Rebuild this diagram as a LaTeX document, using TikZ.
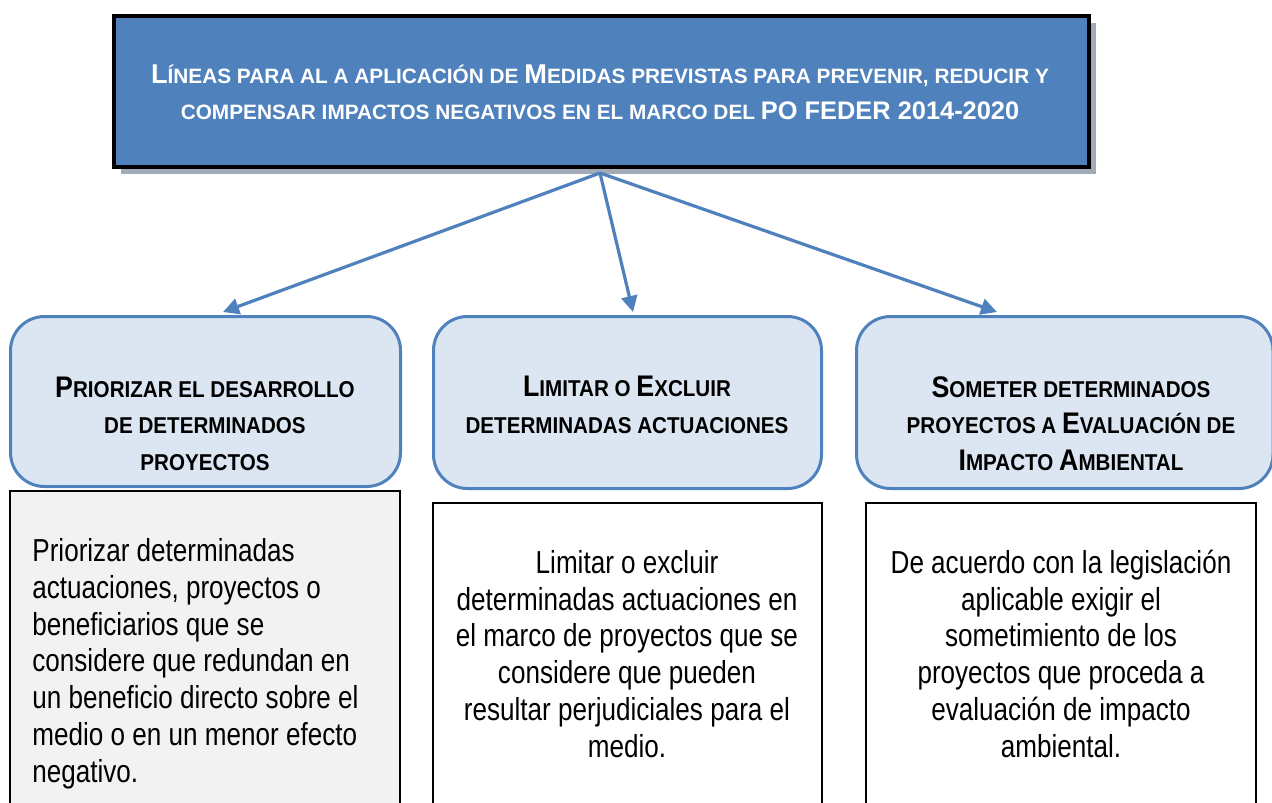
\documentclass[tikz,border=0pt]{standalone}
\usepackage{fontspec}
\setmainfont{Liberation Sans}
\newfontfamily\narrowfont[FakeStretch=0.82]{Liberation Sans}
\newfontfamily\headfont[FakeStretch=0.9]{Liberation Sans}
\usepackage{tikz}
\usetikzlibrary{shadows,arrows.meta}
\definecolor{titleblue}{HTML}{4F81BD}
\definecolor{headfill}{HTML}{DCE6F2}
\definecolor{shadowgrey}{HTML}{A3ABB9}
\definecolor{notefill}{HTML}{F2F2F2}
\newcommand\smcap[1]{{\fontsize{10.4}{18}\selectfont #1}}
\newcommand\smhead[1]{{\fontsize{11.45}{18.25}\selectfont #1}}

\begin{document}
\begin{tikzpicture}[x=0.5pt,y=-0.5pt,>={Triangle[length=8pt,width=8pt]},
   title/.style={draw=black,line width=2pt,fill=titleblue,inner sep=0pt,
     drop shadow={shadow xshift=3.5pt,shadow yshift=-3.5pt,fill=shadowgrey,opacity=1}},
   titletxt/.style={text=white,font=\bfseries\fontsize{13.6}{18}\selectfont,align=center,inner sep=0pt},
   headbox/.style={draw=titleblue,line width=1.5pt,fill=headfill,rounded corners=17pt,inner sep=0pt},
   headtxt/.style={font=\headfont\bfseries\fontsize{14.9}{18.25}\selectfont,align=center,inner sep=0pt},
   notebox/.style={draw=black,line width=1pt,fill=white,inner sep=0pt},
   notetxt/.style={font=\narrowfont\fontsize{15.9}{18.35}\selectfont,align=center,inner sep=0pt},
   link/.style={->,draw=titleblue,line width=1.6pt}]
  \useasboundingbox (0,0) rectangle (1272,802);
  \clip (0,0) rectangle (1272,802);
  \node[title,minimum width=487.5pt,minimum height=75.5pt] (title) at (601.5,91.5) {};
  \node[titletxt,anchor=base] (titleT) at (600,120) {L\smcap{ÍNEAS PARA AL A APLICACIÓN DE }M\smcap{EDIDAS PREVISTAS PARA PREVENIR, REDUCIR Y}\\
     \smcap{COMPENSAR IMPACTOS NEGATIVOS EN EL MARCO DEL }{\fontsize{12.7}{18}\selectfont PO FEDER 2014-2020}};
  \coordinate (hub) at (600,173);
  \node[headbox,minimum width=195pt,minimum height=85pt] (prio) at (205.5,401.5) {};
  \node[headbox,minimum width=194pt,minimum height=86pt] (lim) at (627.5,402.5) {};
  \node[headbox,minimum width=208.25pt,minimum height=86pt] (som) at (1064.75,402.5) {};
  \draw[link] (hub) -- ([xshift=8.75pt,yshift=1.5pt]prio.north);
  \draw[link] (hub) -- ([xshift=2.75pt,yshift=1.5pt]lim.north);
  \draw[link] (hub) -- ([xshift=-33.9pt,yshift=1.5pt]som.north);
  \node[headtxt,anchor=base] (prioT) at (205,470) {P\smhead{RIORIZAR EL DESARROLLO}\\ \smhead{DE DETERMINADOS}\\ \smhead{PROYECTOS}};
  \node[headtxt,anchor=base] (limT) at (627,433) {L\smhead{IMITAR O }E\smhead{XCLUIR}\\ \smhead{DETERMINADAS ACTUACIONES}};
  \node[headtxt,anchor=base] (somT) at (1071,470) {S\smhead{OMETER DETERMINADOS}\\ \smhead{PROYECTOS A }E\smhead{VALUACIÓN DE}\\ I\smhead{MPACTO }A\smhead{MBIENTAL}};
  \node[notebox,fill=notefill,minimum width=195pt,minimum height=169.5pt] (prioN) at (205,660.5) {};
  \node[notebox,minimum width=194.5pt,minimum height=163.5pt] (limN) at (627.5,666.5) {};
  \node[notebox,minimum width=195pt,minimum height=163.5pt] (somN) at (1061,666.5) {};
  \node[notetxt,align=left,anchor=base west] (prioX) at (32,782) {Priorizar determinadas\\ actuaciones, proyectos o\\ beneficiarios que se\\ considere que redundan en\\ un beneficio directo sobre el\\ medio o en un menor efecto\\ negativo.};
  \node[notetxt,anchor=base] (limX) at (627,757) {Limitar o excluir\\ determinadas actuaciones en\\ el marco de proyectos que se\\ considere que pueden\\ resultar perjudiciales para el\\ medio.};
  \node[notetxt,anchor=base] (somX) at (1061,757) {De acuerdo con la legislación\\ aplicable exigir el\\ sometimiento de los\\ proyectos que proceda a\\ evaluación de impacto\\ ambiental.};
\end{tikzpicture}
\end{document}
